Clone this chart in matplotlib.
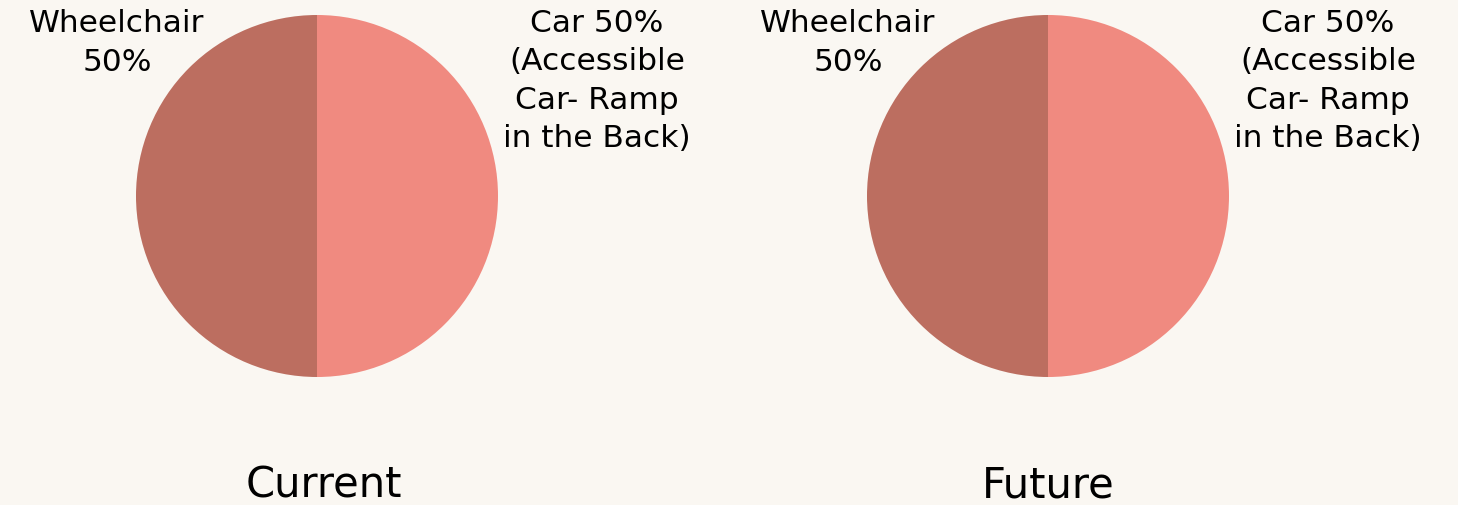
import matplotlib

matplotlib.use("Agg")
import matplotlib.pyplot as plt  # noqa: E402

BG = "#faf7f2"
W, H = 1458, 506

# two pies: current vs future mode split
titles = ["Current", "Future"]
labels = ["Car", "Wheelchair"]
shares = [[50, 50], [50, 50]]
colors = ["#f08a80", "#bc6e60"]
car_note = "(Accessible\nCar- Ramp\nin the Back)"

# pie centres in pixel coordinates (y measured from bottom)
centres = [(317, H - 197), (1048, H - 197)]
radius = 181

fig = plt.figure(figsize=(W / 100, H / 100), dpi=100)
fig.patch.set_facecolor(BG)
ax = fig.add_axes([0, 0, 1, 1])
ax.set_facecolor(BG)

for (cx, cy), title, vals in zip(centres, titles, shares):
    ax.pie(
        vals,
        colors=colors,
        startangle=90,
        counterclock=False,
        center=(cx, cy),
        radius=radius,
        wedgeprops={"linewidth": 0},
        frame=True,
    )
    ax.text(cx - 200, H - 43, f"{labels[1]}\n{vals[1]}%", ha="center", va="center",
            fontsize=22.5, color="#000000", linespacing=1.42)
    ax.text(cx + 280, H - 81, f"{labels[0]} {vals[0]}%\n{car_note}", ha="center",
            va="center", fontsize=22.5, color="#000000", linespacing=1.42)
    ax.text(cx + (7 if title == "Current" else 0), H - 498, title, ha="center",
            va="baseline", fontsize=30, color="#000000")

ax.set_xlim(0, W)
ax.set_ylim(0, H)
ax.set_aspect("equal")
ax.axis("off")

fig.savefig("out.png", dpi=100, facecolor=BG)
